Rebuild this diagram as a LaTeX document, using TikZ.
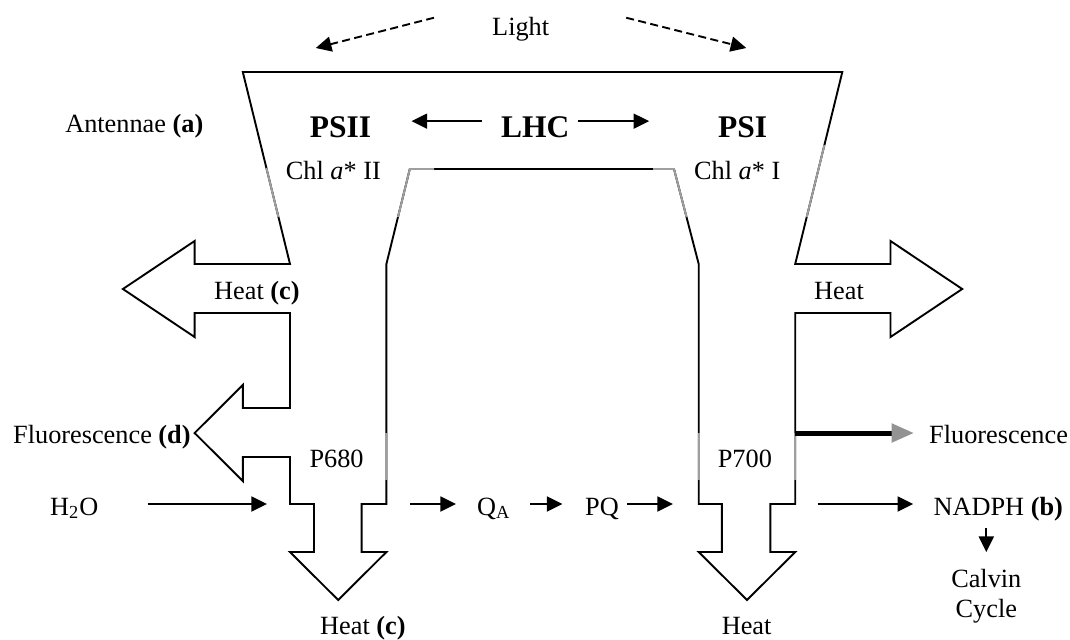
\documentclass[tikz,border=0pt]{standalone}
\usepackage{fontspec}
\setmainfont{Liberation Serif}
\usepackage{tikz}
\usetikzlibrary{arrows.meta, calc}

\begin{document}
\begin{tikzpicture}[x=0.5pt, y=-0.5pt, >={Triangle[length=7.8pt, width=7.5pt]},
    txt/.style={font=\fontsize{13.15}{15}\selectfont, inner sep=0pt, anchor=base},
    big/.style={font=\fontsize{15.75}{18}\selectfont\bfseries, inner sep=0pt, anchor=base},
    faint/.style={draw=gray!75, line width=0.95pt},
    borde/.style={line width=0.95pt, line join=miter},
    flecha/.style={->, line width=0.95pt}]

    \useasboundingbox (0,0) rectangle (1070,639);

    % --- CONTORNO DE LA MEMBRANA (antena, PSII, PSI y flechas de calor) ---
    \draw[borde] (242.8,72) -- (290,264) -- (194.6,264) -- (194.6,241) -- (122.9,289)
        -- (194.6,337) -- (194.6,313) -- (290,313) -- (290,408) -- (242.8,408)
        -- (242.8,385) -- (194.6,433) -- (242.8,481) -- (242.8,457) -- (290,457)
        -- (290,504) -- (314,504) -- (314,552) -- (290,552) -- (338.2,600)
        -- (386.4,552) -- (361.6,552) -- (361.6,504) -- (386.4,504) -- (386.4,264)
        -- (409.8,169) -- (674,169) -- (698.7,264) -- (698.7,504) -- (721.8,504)
        -- (721.8,552) -- (698.7,552) -- (747,600) -- (795.2,552) -- (770.4,552)
        -- (770.4,504) -- (795.2,504) -- (795.2,313) -- (890.5,313) -- (890.5,337)
        -- (962.2,289) -- (890.5,241) -- (890.5,264) -- (795.2,264) -- (842.3,72) -- cycle;

    % tramos grises del contorno
    \draw[faint] (266.4,168) -- (278.4,217);
    \draw[faint] (824.4,145) -- (806.7,217);
    \draw[faint] (398,217) -- (409.8,169) -- (434,169);
    \draw[faint] (653,169) -- (674,169) -- (686.5,217);
    \draw[faint] (386.4,433) -- (386.4,480);
    \draw[faint] (698.7,433) -- (698.7,480);
    \draw[faint] (795.2,433) -- (795.2,480);

    % --- TEXTOS ---
    \node[txt] (light) at (520.7,35) {Light};
    \node[txt] (antenna) at (134.3,132) {Antennae \textbf{(a)}};
    \node[big] (psii) at (340.6,137) {PSII};
    \node[big] (lhc) at (535.3,137) {LHC};
    \node[big] (psi) at (742.6,137) {PSI};
    \node[txt] (chlii) at (333.3,179) {Chl \textit{a}* II};
    \node[txt] (chli) at (737.2,179) {Chl \textit{a}* I};
    \node[txt] (heatL) at (256.9,299) {Heat \textbf{(c)}};
    \node[txt] (heatR) at (839,299) {Heat};
    \node[txt] (fluorL) at (101.9,443) {Fluorescence \textbf{(d)}};
    \node[txt, anchor=base west] (fluorR) at (928.8,443) {Fluorescence};
    \node[txt] (p680) at (336.6,467) {P680};
    \node[txt] (p700) at (744.9,467) {P700};
    \node[txt] (h2o) at (74.2,515) {H\textsubscript{2}O};
    \node[txt] (qa) at (493.8,515) {Q\textsubscript{A}};
    \node[txt] (pq) at (602,515) {PQ};
    \node[txt] (nadph) at (998.3,515) {NADPH \textbf{(b)}};
    \node[txt] (calvin) at (986.3,587) {Calvin};
    \node[txt] (cycle) at (986.3,617) {Cycle};
    \node[txt] (heatB1) at (362.9,634) {Heat \textbf{(c)}};
    \node[txt] (heatB2) at (746.6,634) {Heat};

    % --- PUNTOS CLAVE ---
    \coordinate (flujo) at (0,504);
    \coordinate (luzIzq) at (315.8,48);
    \coordinate (luzDer) at (746.3,48);
    \coordinate (psiiIn) at (266.9,504);
    \coordinate (psiiOut) at (409.8,504);
    \coordinate (psiIn) at (672.9,504);
    \coordinate (psiOut) at (817.5,504);
    \coordinate (psiBorde) at (795.2,433);
    \coordinate (nadphAbajo) at (986.3,552);

    % 1. Luz incidente (punteada)
    \draw[flecha, dash pattern=on 4pt off 2.2pt] ([xshift=-28.9pt, yshift=5.5pt]light.west) -- (luzIzq);
    \draw[flecha, dash pattern=on 4pt off 2.2pt] ([xshift=38.3pt, yshift=5.5pt]light.east) -- (luzDer);

    % 2. Transferencia desde LHC
    \draw[flecha, shorten <=9.5pt, shorten >=20pt] ([yshift=2.8pt]lhc.west) -- ([yshift=2.8pt]psii.east);
    \draw[flecha, shorten <=4.3pt, shorten >=34.3pt] ([yshift=2.8pt]lhc.east) -- ([yshift=2.8pt]psi.west);

    % 3. Cadena de electrones
    \draw[flecha, shorten <=24.5pt] (h2o.east |- flujo) -- (psiiIn);
    \draw[flecha, shorten >=10.4pt] (psiiOut) -- (qa.west |- flujo);
    \draw[flecha, shorten <=9.8pt, shorten >=11.2pt] (qa.east |- flujo) -- (pq.west |- flujo);
    \draw[flecha, shorten <=3.8pt] (pq.east |- flujo) -- (psiIn);
    \draw[flecha, shorten >=10pt] (psiOut) -- (nadph.west |- flujo);
    \draw[flecha] (calvin.north |- 0,528) -- (nadphAbajo);

    % 4. Fluorescencia del PSI (linea gruesa, punta gris)
    \draw[line width=2.5pt, -{Triangle[length=11.2pt, width=9pt, color=gray!85]}, shorten >=7.4pt] (psiBorde) -- (fluorR.west |- psiBorde);

\end{tikzpicture}
\end{document}
